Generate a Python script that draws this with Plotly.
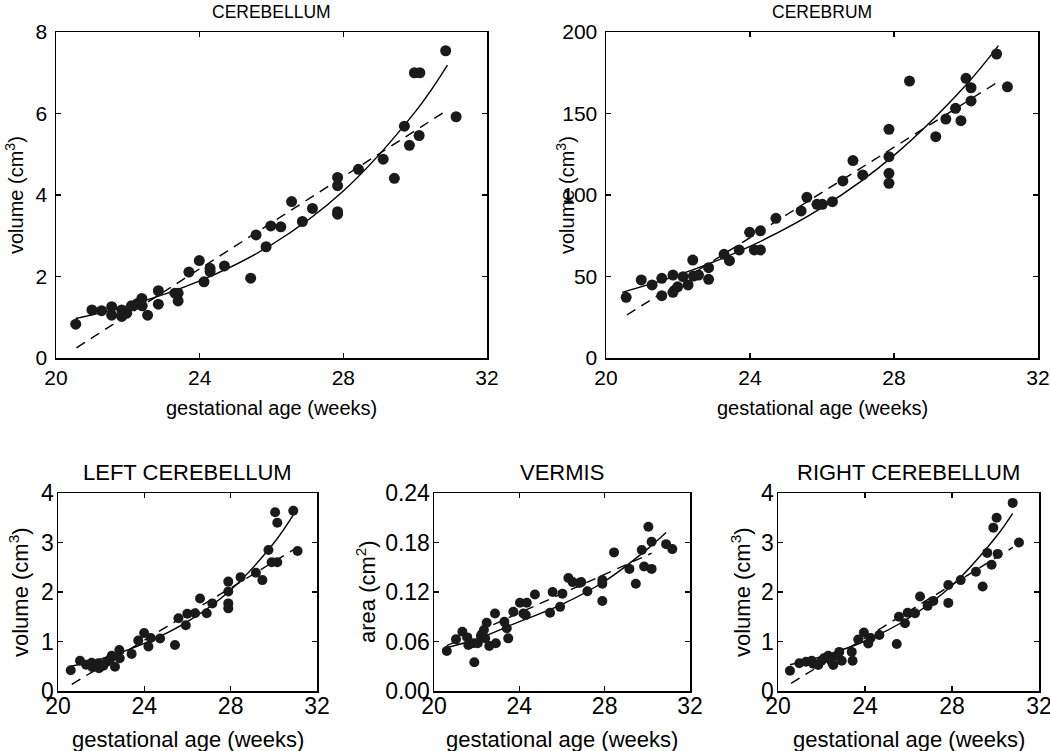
import plotly.graph_objects as go

W, H = 1050, 751

# ---------------- data ----------------
x_ticks = [20, 24, 28, 32]

# CEREBELLUM
cb_x = [20.55,21.0,21.27,21.55,21.55,21.83,21.83,21.97,22.1,22.27,22.39,22.4,22.55,22.85,22.85,23.31,23.4,23.4,23.7,23.99,24.29,24.29,24.12,24.69,25.42,25.57,25.85,25.98,26.26,26.56,26.86,27.14,27.84,27.84,27.84,27.84,28.42,29.11,29.42,29.7,29.84,29.98,30.13,30.11,30.85,31.14]
cb_y = [0.83,1.18,1.16,1.26,1.05,1.18,1.02,1.10,1.28,1.34,1.46,1.28,1.05,1.65,1.32,1.59,1.59,1.40,2.11,2.39,2.20,2.12,1.87,2.26,1.96,3.02,2.73,3.24,3.22,3.84,3.35,3.67,4.43,4.23,3.59,3.53,4.63,4.88,4.41,5.69,5.22,7.0,7.0,5.46,7.54,5.92]
cb_fit_x = [20.55, 22, 24, 26, 28, 30, 30.9]
cb_fit_y = [0.97, 1.28, 1.89, 2.78, 4.10, 6.04, 7.19]
cb_lin_x = [20.57, 30.87]
cb_lin_y = [0.25, 6.07]

# CEREBRUM
cr_x = [20.56,20.98,21.28,21.55,21.55,21.86,21.86,21.99,22.14,22.28,22.41,22.43,22.57,22.85,22.85,23.28,23.43,23.70,23.99,24.12,24.29,24.29,24.72,25.42,25.58,25.86,26.01,26.29,26.58,26.86,27.13,27.86,27.86,27.86,27.86,28.43,29.16,29.44,29.71,29.86,30.0,30.14,30.14,30.85,31.15]
cr_y = [37.2,47.9,44.8,48.9,38.2,50.9,40.3,43.7,49.9,44.8,60.1,50.3,50.9,55.4,48.3,63.6,59.7,66.3,77.1,66.3,66.3,78.0,85.7,90.2,98.6,94.3,94.3,95.9,108.6,121.1,112.3,140.3,123.5,113.3,107.2,169.9,135.8,146.6,153.2,145.6,171.6,165.8,157.7,186.5,166.4]
cr_fit_x = [20.45, 22, 24, 26, 28, 30, 30.9]
cr_fit_y = [40.3, 50.8, 68.5, 92.2, 124.3, 167.5, 191.6]
cr_lin_x = [20.58, 30.9]
cr_lin_y = [26.4, 169.5]

# LEFT CEREBELLUM
lc_x = [20.59,21.02,21.30,21.56,21.6,21.87,21.9,22.1,22.26,22.41,22.49,22.64,22.84,22.86,23.41,23.72,23.99,24.19,24.3,24.73,25.42,25.58,25.92,25.99,26.35,26.58,26.89,27.15,27.89,27.89,27.89,27.89,28.46,29.17,29.47,29.75,29.9,30.06,30.16,30.16,30.9,31.1]
lc_y = [0.42,0.61,0.53,0.57,0.48,0.56,0.46,0.51,0.59,0.64,0.71,0.49,0.83,0.66,0.75,1.02,1.17,0.90,1.07,1.06,0.93,1.47,1.33,1.56,1.57,1.87,1.57,1.77,2.21,2.01,1.77,1.67,2.30,2.39,2.24,2.85,2.60,3.61,3.40,2.60,3.64,2.83]
lc_fit_x = [20.59, 22, 24, 26, 28, 30, 30.9]
lc_fit_y = [0.50, 0.65, 0.96, 1.40, 2.04, 2.99, 3.56]
lc_lin_x = [20.64, 30.9]
lc_lin_y = [0.135, 2.85]

# VERMIS
vm_x = [20.6,21.03,21.33,21.56,21.61,21.84,21.89,22.05,22.2,22.34,22.47,22.4,22.59,22.86,22.9,23.3,23.41,23.48,23.72,24.03,24.19,24.35,24.3,24.73,25.44,25.56,25.91,26.02,26.3,26.5,26.81,26.9,27.19,27.89,27.89,27.89,28.44,29.16,29.46,29.74,29.85,30.05,30.2,30.2,30.88,31.17]
vm_y = [0.0485,0.0626,0.0719,0.065,0.0558,0.0578,0.0348,0.0578,0.067,0.074,0.0828,0.064,0.0545,0.094,0.0578,0.084,0.076,0.0638,0.0961,0.107,0.094,0.107,0.092,0.117,0.0949,0.120,0.102,0.118,0.137,0.132,0.131,0.132,0.121,0.1345,0.13,0.109,0.168,0.148,0.13,0.171,0.151,0.199,0.181,0.148,0.178,0.172]
vm_fit_x = [20.6, 22, 24, 26, 28, 30, 30.88]
vm_fit_y = [0.0525, 0.063, 0.084, 0.105, 0.133, 0.172, 0.192]
vm_lin_x = [20.6, 30.2]
vm_lin_y = [0.055, 0.167]

# RIGHT CEREBELLUM
rc_x = [20.55,20.98,21.29,21.55,21.62,21.85,22.0,22.11,22.31,22.47,22.54,22.73,22.82,22.93,23.39,23.43,23.69,23.95,24.15,24.26,24.66,25.46,25.56,25.84,25.96,26.3,26.53,26.88,27.14,27.83,27.83,28.4,29.1,29.41,29.62,29.82,29.9,30.05,30.1,30.79,31.08]
rc_y = [0.41,0.56,0.59,0.61,0.55,0.525,0.61,0.66,0.71,0.59,0.525,0.72,0.79,0.61,0.79,0.61,1.04,1.18,0.96,1.07,1.13,0.95,1.50,1.37,1.58,1.57,1.91,1.72,1.82,2.14,1.78,2.24,2.41,2.11,2.79,2.55,3.30,3.50,2.77,3.80,3.0]
rc_fit_x = [20.55, 22, 24, 26, 28, 30, 30.79]
rc_fit_y = [0.53, 0.695, 1.01, 1.47, 2.13, 3.10, 3.59]
rc_lin_x = [20.6, 30.8]
rc_lin_y = [0.155, 2.9]

panels = [
    dict(title="CEREBELLUM", ytitle="volume (cm<sup>3</sup>)", x=cb_x, y=cb_y,
         fx=cb_fit_x, fy=cb_fit_y, lx=cb_lin_x, ly=cb_lin_y,
         yr=[0, 8], yt=[0, 2, 4, 6, 8], yfmt="d",
         box=(56, 487, 32, 358), big=False, ytx=14),
    dict(title="CEREBRUM", ytitle="volume (cm<sup>3</sup>)", x=cr_x, y=cr_y,
         fx=cr_fit_x, fy=cr_fit_y, lx=cr_lin_x, ly=cr_lin_y,
         yr=[0, 200], yt=[0, 50, 100, 150, 200], yfmt="d",
         box=(606, 1038, 32, 358), big=False, ytx=565),
    dict(title="LEFT CEREBELLUM", ytitle="volume (cm<sup>3</sup>)", x=lc_x, y=lc_y,
         fx=lc_fit_x, fy=lc_fit_y, lx=lc_lin_x, ly=lc_lin_y,
         yr=[0, 4], yt=[0, 1, 2, 3, 4], yfmt="d",
         box=(58, 317, 493, 691), big=True, ytx=19),
    dict(title="VERMIS", ytitle="area (cm<sup>2</sup>)", x=vm_x, y=vm_y,
         fx=vm_fit_x, fy=vm_fit_y, lx=vm_lin_x, ly=vm_lin_y,
         yr=[0, 0.24], yt=[0, 0.06, 0.12, 0.18, 0.24], yfmt=".2f",
         box=(434, 690, 493, 691), big=True, ytx=366),
    dict(title="RIGHT CEREBELLUM", ytitle="volume (cm<sup>3</sup>)", x=rc_x, y=rc_y,
         fx=rc_fit_x, fy=rc_fit_y, lx=rc_lin_x, ly=rc_lin_y,
         yr=[0, 4], yt=[0, 1, 2, 3, 4], yfmt="d",
         box=(778, 1039, 493, 691), big=True, ytx=741),
]


def px(xs):
    return xs / W


def py(ys):
    return 1 - ys / H


FONT = "Arial, 'Liberation Sans', sans-serif"
fig = go.Figure()
layout = dict(width=W, height=H,
              margin=dict(l=0, r=0, t=0, b=0, pad=0, autoexpand=False),
              paper_bgcolor="white", plot_bgcolor="white", showlegend=False,
              font=dict(family=FONT, color="black"))
annotations = []

for i, p in enumerate(panels):
    n = "" if i == 0 else str(i + 1)
    xa, ya = "x" + n, "y" + n
    x0, x1, y0, y1 = p["box"]
    big = p["big"]
    tick_fs = 23 if big else 21
    lab_fs = 22 if big else 20
    tit_fs = 22 if big else 17.5
    msize = 10 if big else 11

    fig.add_trace(go.Scatter(x=p["fx"], y=p["fy"], mode="lines", xaxis=xa, yaxis=ya,
                             line=dict(color="black", width=1.4, shape="spline", smoothing=1.0)))
    fig.add_trace(go.Scatter(x=p["lx"], y=p["ly"], mode="lines", xaxis=xa, yaxis=ya,
                             line=dict(color="black", width=1.4, dash="10px,7px")))
    fig.add_trace(go.Scatter(x=p["x"], y=p["y"], mode="markers", xaxis=xa, yaxis=ya,
                             marker=dict(color="#1a1a1a", size=msize, line=dict(width=0))))

    common = dict(showline=True, linecolor="black", linewidth=1.5, mirror="ticks",
                  ticks="inside", ticklen=5, tickwidth=1.2, tickcolor="black",
                  showgrid=False, zeroline=False, fixedrange=True, automargin=False,
                  ticklabeloverflow="allow",
                  tickfont=dict(family=FONT, size=tick_fs, color="black"))
    layout["xaxis" + n] = dict(common, domain=[px(x0), px(x1)], anchor=ya,
                               range=[20, 32], tickvals=x_ticks,
                               ticklabelstandoff=(-6 if big else 0))
    layout["yaxis" + n] = dict(common, domain=[py(y1), py(y0)], anchor=xa,
                               range=p["yr"], tickvals=p["yt"], tickformat=p["yfmt"],
                               ticklabelstandoff=(-2 if big else 3))

    cx = (x0 + x1) / 2
    title_y = 12 if not big else 472
    annotations.append(dict(text=p["title"], x=px(cx), y=py(title_y), xref="paper", yref="paper",
                            showarrow=False, xanchor="center", yanchor="middle",
                            font=dict(family=FONT, size=tit_fs, color="black")))
    xt_y = 408 if not big else 739
    annotations.append(dict(text="gestational age (weeks)", x=px(cx), y=py(xt_y),
                            xref="paper", yref="paper", showarrow=False,
                            xanchor="center", yanchor="middle",
                            font=dict(family=FONT, size=lab_fs, color="black")))
    annotations.append(dict(text=p["ytitle"], x=px(p["ytx"]), y=py((y0 + y1) / 2),
                            xref="paper", yref="paper", showarrow=False, textangle=-90,
                            xanchor="center", yanchor="middle",
                            font=dict(family=FONT, size=lab_fs, color="black")))

layout["annotations"] = annotations
fig.update_layout(**layout)
# remove the default 8px body margin so the figure sits at the window's top-left corner
fig.write_html("out.html",
               config={"displayModeBar": False, "staticPlot": True},
               post_script="document.body.style.margin='0';document.body.style.overflow='hidden';")
